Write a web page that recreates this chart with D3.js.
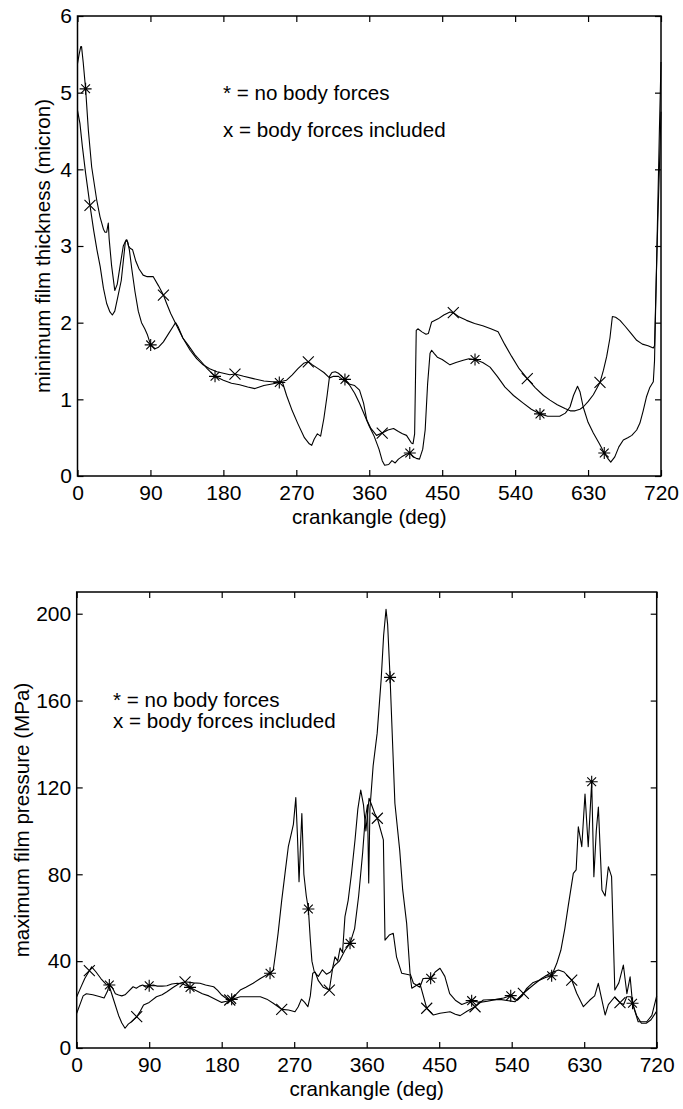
<!DOCTYPE html>
<html>
<head>
<meta charset="utf-8">
<script src="https://cdn.jsdelivr.net/npm/d3@7"></script>
<style>
  body { margin: 0; background: #fff; }
  svg text { font-family: "Liberation Sans", Arial, sans-serif; fill: #000; }
</style>
</head>
<body>
<div id="chart"></div>
<script>
// crank angle ticks shared by both plots
var angleTicks = [0, 90, 180, 270, 360, 450, 540, 630, 720];
var thickTicks = [0, 1, 2, 3, 4, 5, 6];
var presTicks = [0, 40, 80, 120, 160, 200];

// minimum film thickness (micron) vs crankangle, "*" = no body forces
var thickStar = [[0,5.38],[2,5.5],[4,5.6],[5,5.6],[7,5.4],[10,5.05],[13.4,4.51],[17.5,4.03],[23.7,3.6],[27.8,3.38],[32,3.22],[34,3.18],[36,3.18],[38,3.3],[39,3.1],[42,2.75],[46,2.42],[49,2.5],[52.4,2.73],[56.5,3.0],[60,3.08],[62,3.05],[64,2.95],[67,2.7],[71,2.4],[75,2.15],[79,2.0],[83,1.92],[86,1.85],[90.3,1.71],[95.6,1.66],[100,1.68],[106,1.75],[112,1.85],[118,1.95],[121,2.0],[124,1.95],[130,1.8],[137,1.7],[145,1.58],[152,1.5],[160,1.4],[169.7,1.3],[180,1.25],[190,1.21],[200,1.19],[210,1.16],[219,1.14],[230,1.18],[240,1.2],[249,1.22],[253,1.22],[258,1.05],[265,0.85],[272,0.68],[280,0.5],[286,0.42],[289,0.4],[292,0.48],[296,0.55],[300,0.52],[304,0.75],[308,1.05],[311,1.3],[314,1.35],[318,1.36],[322,1.34],[330,1.26],[336,1.18],[342,1.08],[348,0.95],[354,0.8],[360,0.65],[366,0.52],[372,0.35],[376,0.2],[379,0.14],[384,0.15],[388,0.2],[392,0.17],[396,0.22],[400,0.25],[405,0.28],[410,0.3],[414,0.25],[418,0.23],[422,0.22],[426,0.35],[429,0.6],[432,1.2],[435,1.6],[437,1.64],[440,1.6],[444,1.55],[450,1.52],[459.6,1.45],[467,1.48],[476,1.51],[483,1.53],[490.5,1.52],[500,1.48],[509,1.42],[518,1.3],[527.5,1.16],[538,1.05],[550,0.95],[560,0.87],[570.7,0.81],[580,0.78],[595,0.78],[602,0.82],[607.7,0.9],[612,1.05],[617,1.17],[620,1.1],[624,0.9],[630,0.7],[636.5,0.56],[644,0.42],[650,0.3],[655,0.22],[658,0.18],[663,0.25],[668,0.38],[673.5,0.47],[679,0.5],[684,0.53],[690,0.6],[694,0.69],[698,0.85],[702,1.03],[706,1.15],[710.5,1.23],[712,1.5],[714,2.5],[716,3.5],[718,4.5],[720,5.4]];
// "x" = body forces included
var thickCross = [[0,4.77],[3,4.6],[6,4.3],[10,3.95],[15.4,3.53],[20,3.2],[24,2.95],[28,2.73],[32,2.45],[36,2.25],[40,2.14],[43,2.1],[46,2.15],[50,2.35],[54,2.55],[57,2.85],[59,3.05],[61,3.08],[63,3.0],[65,2.97],[68,2.95],[72,2.8],[76,2.7],[81,2.62],[86,2.6],[93.5,2.6],[100,2.48],[106,2.36],[110,2.25],[115,2.12],[122,1.97],[130,1.8],[139,1.64],[147,1.53],[155,1.45],[163,1.4],[172,1.36],[180,1.34],[188,1.32],[194.3,1.33],[205,1.3],[217,1.27],[230,1.24],[240,1.23],[250,1.23],[258,1.25],[265,1.32],[272,1.4],[279,1.47],[284.8,1.49],[290,1.45],[297,1.4],[304,1.35],[311,1.28],[316,1.3],[322,1.3],[328,1.25],[335,1.2],[342,1.18],[348,1.12],[353,0.95],[357,0.73],[362,0.62],[369,0.53],[376,0.56],[383,0.6],[390,0.62],[396,0.58],[401,0.55],[406,0.53],[412,0.43],[414,0.42],[416,0.55],[418,1.9],[420,1.92],[425,1.88],[430,1.85],[433,1.86],[437,2.01],[445,2.05],[452,2.1],[459.6,2.14],[463.7,2.13],[470,2.08],[480,2.03],[490,1.99],[500,1.96],[510,1.92],[519,1.88],[527,1.72],[535.7,1.56],[545,1.4],[555,1.27],[565,1.15],[575,1.05],[583,0.99],[592,0.93],[601.5,0.88],[608,0.85],[614,0.85],[620,0.87],[624,0.9],[630,0.97],[636.5,1.06],[644.7,1.22],[649,1.38],[653,1.56],[657,1.8],[660,2.08],[664,2.07],[669.4,2.03],[676,1.95],[683,1.86],[690,1.77],[697,1.72],[704,1.7],[710.5,1.67],[712,1.7],[714,2.5],[716,3.3],[718,4.0],[720,4.75]];
var thickStarMarks = [[10,5.05],[90.3,1.71],[169.7,1.3],[249,1.22],[330,1.26],[410,0.3],[490.5,1.52],[570.7,0.81],[650,0.3]];
var thickCrossMarks = [[15.4,3.53],[106,2.36],[194.3,1.33],[284.8,1.49],[376,0.56],[463.7,2.13],[555,1.27],[644.7,1.22]];

// maximum film pressure (MPa) vs crankangle
var presStar = [[0,16],[4,20],[8,24],[12,25],[20,24.5],[29,23.6],[34,23],[38,26],[40.5,29],[44,28],[48,25],[52,24.4],[56,24],[60,24.5],[64,26],[70,28.2],[74,27.5],[78,28.5],[82,29],[86,28],[90,28.7],[95,29],[100,28.5],[106,28.5],[112,28.7],[118,29.5],[125,29.8],[132,29.5],[140.7,27.9],[148,26.5],[156,25],[164,24],[172,22.5],[180,21],[186,21.5],[192.4,22.4],[196,24],[203,26.7],[210,28],[219,29.8],[228,32],[235,33.5],[240,34.4],[244,35.9],[247,44],[250,52.8],[254.5,68],[258.6,80.4],[262.7,92.7],[266,98],[269,103],[272,115.3],[274,98],[276,76.6],[278,95],[279.5,108],[282,80],[285,70],[287.6,64],[290,50],[292,40],[295,35],[300,33],[305,36],[310,34],[315,35],[320,38],[326,40],[333,45],[339.3,48.2],[345,55],[350,70],[355,90],[358,105],[361,112],[362.5,76],[364,110],[368,130],[373,145],[378,170],[381,190],[384,202],[386,195],[389,170.7],[395,112.7],[401,91],[404.7,72.8],[409.6,57.4],[413.8,34.4],[418,29.8],[426,28],[430,32],[439.4,32.1],[445,35],[451,36.7],[457,33],[463,25],[470,22],[478,20],[490.3,21.8],[500,21],[510,21.5],[521,22.4],[530,23],[538.8,24.1],[547,22],[553,24],[558.6,27.5],[566,30],[575,31.3],[582,32.5],[589.6,33.3],[596,39],[601,45],[606,55.1],[610,65],[616.5,80.4],[620,82],[622.7,101.9],[627,92.7],[631,117],[635,92.7],[639.3,122.6],[642,78.9],[645,100],[647.6,111],[650,90],[652,72.8],[656,70],[660,83.5],[664,78.9],[668,26.7],[673,30],[678.6,38.2],[683,25],[687,32.8],[690,20.6],[695,15],[701,11.4],[707,11.4],[713,13],[720,17]];
var presCross = [[0,23.6],[4,27],[10,32],[15.7,35.6],[18.6,37.4],[24,35],[30,32],[36,29.5],[40,29],[46,22],[52,15],[56,11.5],[60,9.1],[64,11],[68,12.1],[74.5,14.4],[79,17],[83,19.8],[90,21],[99,23.6],[106,24.5],[112,25.9],[120,28],[128,29.8],[134.5,30.5],[145,30],[153,29.8],[160,29],[170,28.2],[175,26.5],[180,24.4],[185,23],[190,22.1],[203,23.6],[215,23.6],[228,23.6],[236,22.5],[244,20.6],[254.5,17.8],[263,17.5],[271,16.7],[275,19],[279,22.5],[283,21],[287,19],[290,24],[293,34.4],[296,35],[300,31],[306,28],[313.6,26.7],[318,37.4],[320.6,42],[324,40],[327,46],[330,44],[333,60.5],[337,68],[341,80],[345.5,95.8],[349,110],[352.6,118.8],[356,112],[359,100],[362.9,115],[366,112],[370,108],[373.2,105.8],[380.7,95.8],[382.7,49.7],[388,52],[393,52.8],[397,42],[403.5,34.4],[413.8,33.6],[416,27.5],[426,29.8],[434.5,18.3],[442.7,15.2],[451,16],[463.5,16.7],[470,15.5],[476,14.9],[485,17],[494.5,19],[504.8,22.1],[525.5,22.4],[544,21.3],[554.5,25.2],[566.8,29],[577,32],[587.5,34.4],[598,35.9],[605,35],[610,33],[614.5,31.3],[620.7,25.2],[629,19],[637,22.1],[643,24],[647.5,29.8],[652,22],[656,15.2],[660,20],[668,23.6],[674.4,20.9],[679,20],[682.8,23.6],[688,23.6],[692,18],[697,12.1],[707.6,12.1],[714,15],[720,24]];
var presStarMarks = [[40.5,29],[90,28.7],[140.7,27.9],[192.4,22.4],[240,34.4],[287.6,64],[339.3,48.2],[389,170.7],[439.4,32.1],[490.3,21.8],[538.8,24.1],[589.6,33.3],[639.3,122.6],[690,20.6]];
var presCrossMarks = [[15.7,35.6],[74.5,14.4],[134.5,30.5],[190,22.1],[254.5,17.8],[313.6,26.7],[373.2,105.8],[434.5,18.3],[494.5,19],[554.5,25.2],[614.5,31.3],[674.4,20.9]];

var legendLines = ["* = no body forces", "x = body forces included"];

var svg = d3.select("#chart").append("svg").attr("width", 683).attr("height", 1109);

function drawPanel(p) {
    var x_scale = d3.scaleLinear().domain([0, 720]).range([p.left, p.right]);
    var y_scale = d3.scaleLinear().domain(p.yDomain).range([p.bottom, p.top]);
    var g = svg.append("g");

    // ticks inside the box on all four sides
    var tickLen = 6;
    g.append("g").attr("transform", "translate(0," + p.bottom + ")")
        .call(d3.axisBottom(x_scale).tickValues(angleTicks).tickFormat(d3.format("d")).tickSize(-tickLen).tickSizeOuter(0).tickPadding(9));
    g.append("g").attr("transform", "translate(0," + p.top + ")")
        .call(d3.axisTop(x_scale).tickValues(angleTicks).tickSize(-tickLen).tickSizeOuter(0).tickFormat(""));
    g.append("g").attr("transform", "translate(" + p.left + ",0)")
        .call(d3.axisLeft(y_scale).tickValues(p.yTicks).tickFormat(d3.format("d")).tickSize(-tickLen).tickSizeOuter(0).tickPadding(5.5));
    g.append("g").attr("transform", "translate(" + p.right + ",0)")
        .call(d3.axisRight(y_scale).tickValues(p.yTicks).tickSize(-tickLen).tickSizeOuter(0).tickFormat(""));
    g.selectAll(".domain").remove();
    g.selectAll(".tick line").attr("stroke", "#000").attr("stroke-width", 1.2);
    g.selectAll(".tick text").attr("font-size", 21).attr("font-family", "Liberation Sans, Arial, sans-serif").attr("fill", "#000");

    g.append("rect")
        .attr("x", p.left).attr("y", p.top)
        .attr("width", p.right - p.left).attr("height", p.bottom - p.top)
        .attr("fill", "none").attr("stroke", "#000").attr("stroke-width", 1.5);

    var line = d3.line().x(function (d) { return x_scale(d[0]); }).y(function (d) { return y_scale(d[1]); });
    [p.star, p.cross].forEach(function (s) {
        g.append("path").datum(s).attr("d", line)
            .attr("fill", "none").attr("stroke", "#000").attr("stroke-width", 1.1)
            .attr("stroke-linejoin", "round");
    });

    // "*" markers
    var r = 6, rd = 4.4;
    g.selectAll(".star").data(p.starMarks).enter().append("path")
        .attr("transform", function (d) { return "translate(" + x_scale(d[0]) + "," + y_scale(d[1]) + ")"; })
        .attr("d", "M0," + (-r) + "V" + r + "M" + (-r) + ",0H" + r +
            "M" + (-rd) + "," + (-rd) + "L" + rd + "," + rd + "M" + (-rd) + "," + rd + "L" + rd + "," + (-rd))
        .attr("stroke", "#000").attr("stroke-width", 1.1).attr("fill", "none");
    // "x" markers
    var c = 5.5;
    g.selectAll(".cross").data(p.crossMarks).enter().append("path")
        .attr("transform", function (d) { return "translate(" + x_scale(d[0]) + "," + y_scale(d[1]) + ")"; })
        .attr("d", "M" + (-c) + "," + (-c) + "L" + c + "," + c + "M" + (-c) + "," + c + "L" + c + "," + (-c))
        .attr("stroke", "#000").attr("stroke-width", 1.1).attr("fill", "none");

    // axis labels
    g.append("text")
        .attr("x", (p.left + p.right) / 2).attr("y", p.bottom + 48)
        .attr("text-anchor", "middle").attr("font-size", 20.6)
        .text("crankangle (deg)");
    g.append("text")
        .attr("transform", "translate(" + p.yLabelX + "," + ((p.top + p.bottom) / 2) + ") rotate(-90)")
        .attr("text-anchor", "middle").attr("font-size", 20.6)
        .text(p.yLabel);

    // legend text
    g.selectAll(".legend").data(legendLines).enter().append("text")
        .attr("x", p.legendX)
        .attr("y", function (d, i) { return p.legendY + i * p.legendGap; })
        .attr("font-size", 20.6)
        .text(function (d) { return d; });
}

drawPanel({
    left: 77.5, right: 661, top: 16, bottom: 476,
    yDomain: [0, 6], yTicks: thickTicks,
    yLabel: "minimum film thickness (micron)", yLabelX: 50,
    star: thickStar, cross: thickCross, starMarks: thickStarMarks, crossMarks: thickCrossMarks,
    legendX: 223, legendY: 100, legendGap: 37
});

drawPanel({
    left: 76.7, right: 656.7, top: 592, bottom: 1048,
    yDomain: [0, 210], yTicks: presTicks,
    yLabel: "maximum film pressure (MPa)", yLabelX: 29,
    star: presStar, cross: presCross, starMarks: presStarMarks, crossMarks: presCrossMarks,
    legendX: 113, legendY: 706.7, legendGap: 21.7
});
</script>
</body>
</html>
